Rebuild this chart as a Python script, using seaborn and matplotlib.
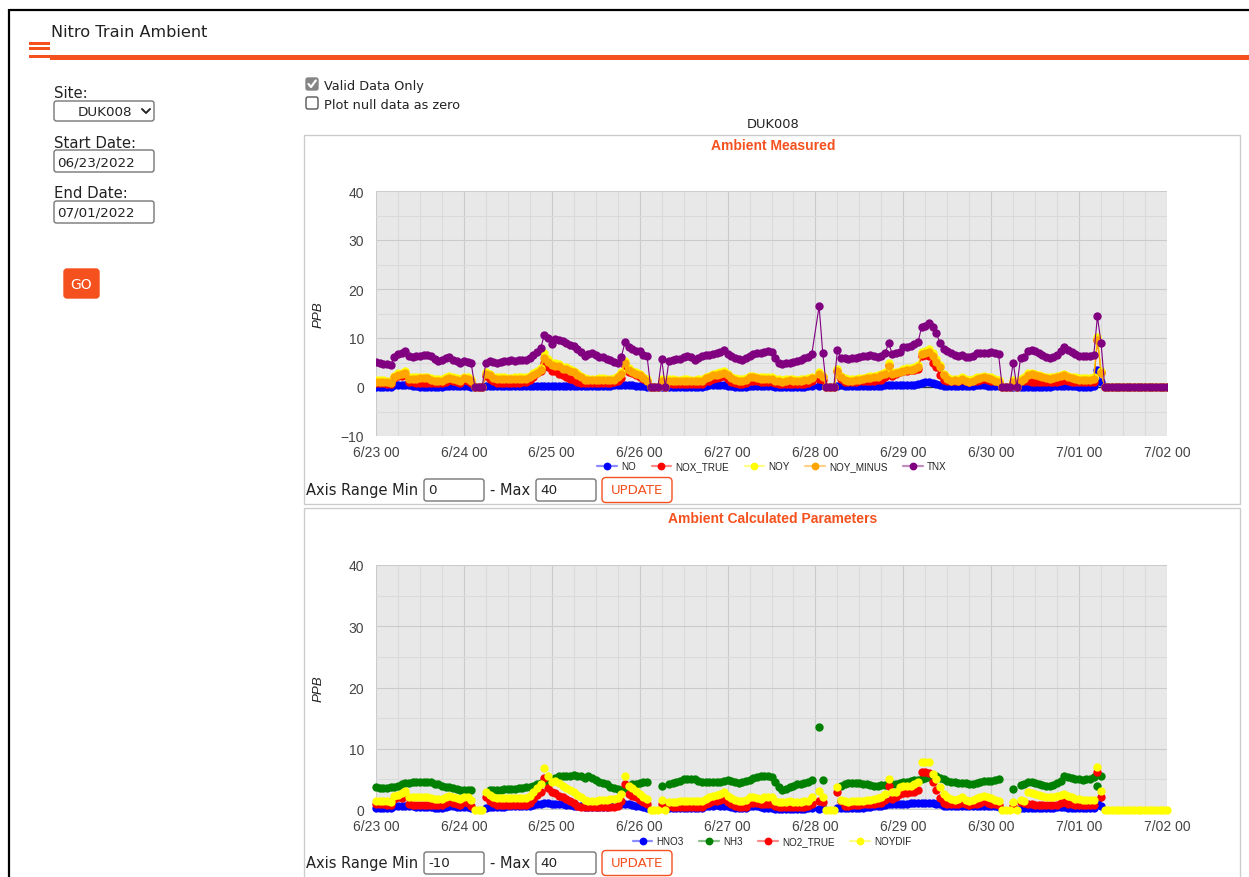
import numpy as np
import matplotlib
matplotlib.use("Agg")
import matplotlib.pyplot as plt
import seaborn as sns
from matplotlib.patches import Rectangle, FancyBboxPatch
from matplotlib.lines import Line2D
from matplotlib.ticker import MultipleLocator, FixedLocator

nan = float("nan")

# ---------------------------------------------------------------- data
# hourly readings from 6/23 00:00 through 7/02 00:00 (217 samples)
hour_offsets = np.arange(217)
day_ticks = [0, 24, 48, 72, 96, 120, 144, 168, 192, 216]
day_labels = ["6/23 00", "6/24 00", "6/25 00", "6/26 00", "6/27 00",
              "6/28 00", "6/29 00", "6/30 00", "7/01 00", "7/02 00"]

site_name = "DUK008"
start_date = "06/23/2022"
end_date = "07/01/2022"

# Ambient Measured (ppb)
no_ppb = [
    0.0, 0.0, 0.0, 0.0, 0.1, 0.4, 0.5, 0.5, 0.5, 0.4, 0.3, 0.2, 0.1, 0.1, 0.1, 0.1, 0.1, 0.1, 0.1, 0.2, 0.3, 0.3, 0.2, 0.2,
    0.2, 0.2, 0.1, 0, 0, 0, 0.3, 0.3, 0.2, 0.2, 0.2, 0.2, 0.3, 0.3, 0.3, 0.3, 0.3, 0.3, 0.3, 0.3, 0.3, 0.3, 0.3, 0.3,
    0.3, 0.3, 0.3, 0.3, 0.3, 0.3, 0.3, 0.3, 0.3, 0.3, 0.3, 0.3, 0.3, 0.3, 0.3, 0.3, 0.3, 0.4, 0.5, 0.5, 0.5, 0.5, 0.4, 0.3,
    0.3, 0.2, 0.1, 0, 0, 0, 0.1, 0, 0.1, 0.0, 0.0, 0.0, 0.0, 0.0, 0.0, 0.0, 0.1, 0.1, 0.3, 0.4, 0.4, 0.4, 0.4, 0.4,
    0.3, 0.2, 0.1, 0.1, 0.1, 0.1, 0.2, 0.2, 0.3, 0.3, 0.2, 0.2, 0.2, 0.1, 0.1, 0.1, 0.1, 0.1, 0.1, 0.1, 0.1, 0.1, 0.2, 0.3,
    nan, 0.2, 0.4, 0, 0, 0, 0.3, 0.4, 0.2, 0.2, 0.2, 0.2, 0.2, 0.2, 0.2, 0.3, 0.3, 0.3, 0.3, 0.4, 0.4, 0.4, 0.4, 0.4,
    0.4, 0.4, 0.4, 0.5, 0.6, 0.9, 1.0, 1.0, 0.9, 0.7, 0.5, 0.3, 0.2, 0.2, 0.2, 0.2, 0.3, 0.3, 0.3, 0.3, 0.4, 0.4, 0.4, 0.3,
    0.3, 0.3, 0.2, 0, 0, 0, 0.1, 0, 0.1, 0.1, 0.1, 0.1, 0.1, 0.1, 0.1, 0.1, 0.1, 0.2, 0.2, 0.2, 0.2, 0.2, 0.2, 0.2,
    0.1, 0.1, 0.1, 0.1, 0.2, 3.5, 1.0, 0, 0, 0, 0, 0, 0, 0, 0, 0, 0, 0, 0, 0, 0, 0, 0, 0, 0,
]
nox_true_ppb = [
    0.8, 0.8, 0.8, 0.7, 0.7, 1.9, 2.3, 2.2, 2.5, 1.1, 1.0, 0.9, 0.9, 0.9, 0.9, 0.9, 0.8, 0.8, 0.8, 1.1, 1.4, 1.2, 1.0, 0.9,
    1.4, 1.2, 0.8, 0, 0, 0, 2.3, 1.6, 1.2, 0.9, 0.9, 0.9, 0.9, 0.9, 0.9, 0.9, 1.0, 1.1, 1.4, 2.1, 2.8, 3.2, 5.0, 4.0,
    3.3, 3.2, 2.7, 2.4, 2.1, 1.7, 1.4, 1.0, 0.8, 0.8, 0.8, 0.8, 0.8, 0.8, 0.8, 0.8, 0.9, 1.0, 1.2, 1.9, 4.2, 3.1, 2.8, 2.5,
    2.1, 1.7, 1.2, 0, 0, 0, 0.9, 0, 0.8, 0.6, 0.6, 0.6, 0.6, 0.6, 0.6, 0.6, 0.7, 0.7, 1.3, 1.3, 1.6, 1.9, 2.0, 2.2,
    1.6, 1.1, 0.8, 0.7, 0.7, 0.8, 1.3, 1.2, 1.2, 1.1, 1.1, 1.1, 1.1, 0.8, 0.7, 0.7, 0.7, 0.7, 0.7, 0.7, 0.7, 0.7, 0.8, 1.2,
    nan, 1.6, 1.5, 0, 0, 0, 3.2, 1.7, 1.0, 1.0, 1.1, 1.1, 1.2, 1.2, 1.3, 1.3, 1.3, 1.4, 1.5, 2.0, 4.5, 2.3, 2.6, 3.1,
    3.2, 3.2, 3.4, 3.5, 3.7, 6.3, 6.5, 6.4, 5.0, 4.0, 2.5, 1.4, 1.2, 1.2, 1.2, 1.2, 1.4, 1.2, 1.1, 1.2, 1.3, 1.4, 1.7, 1.4,
    1.3, 1.2, 1.1, 0, 0, 0, 0.9, 0, 1.4, 1.3, 1.2, 1.1, 1.0, 1.0, 1.0, 1.0, 1.0, 1.0, 1.0, 1.3, 1.4, 1.2, 1.1, 1.0,
    1.0, 1.0, 1.0, 1.0, 1.0, 9.6, 3.1, 0, 0, 0, 0, 0, 0, 0, 0, 0, 0, 0, 0, 0, 0, 0, 0, 0, 0,
]
noy_ppb = [
    1.4, 1.4, 1.4, 1.3, 1.2, 2.3, 2.8, 2.9, 3.2, 2.0, 2.0, 2.0, 2.1, 2.1, 2.1, 1.8, 1.6, 1.6, 1.6, 2.0, 2.2, 2.0, 1.8, 1.6,
    2.1, 2.0, 1.6, 0, 0, 0, 3.0, 2.7, 2.1, 2.0, 2.0, 2.0, 1.9, 1.9, 2.0, 2.0, 2.0, 2.0, 2.3, 2.8, 3.2, 3.9, 6.9, 5.7,
    5.0, 4.8, 4.6, 4.1, 4.0, 3.7, 3.3, 2.8, 2.3, 1.8, 1.7, 1.7, 1.7, 1.8, 1.8, 1.7, 1.7, 1.8, 2.3, 3.0, 5.4, 3.9, 3.3, 3.0,
    2.7, 2.1, 1.6, 0, 0, 0, 1.6, 0, 1.6, 1.6, 1.5, 1.5, 1.6, 1.6, 1.5, 1.5, 1.6, 1.6, 2.1, 2.3, 2.7, 2.8, 3.0, 3.2,
    2.7, 2.1, 1.8, 1.6, 1.6, 1.8, 2.3, 2.3, 2.1, 2.0, 2.0, 2.0, 2.0, 1.6, 1.6, 1.4, 1.6, 1.7, 1.6, 1.5, 1.6, 1.7, 1.8, 2.1,
    nan, 3.0, 2.3, 0, 0, 0, 3.7, 2.3, 1.8, 1.6, 1.6, 1.7, 1.8, 1.9, 2.1, 2.2, 2.3, 2.4, 2.7, 3.0, 5.0, 3.0, 3.1, 3.3,
    3.7, 3.8, 3.9, 4.0, 4.5, 7.1, 7.4, 7.8, 6.9, 5.7, 4.4, 2.7, 2.0, 1.6, 1.7, 1.6, 2.0, 1.6, 1.4, 1.6, 2.0, 2.1, 2.3, 2.1,
    2.0, 1.6, 1.4, 0, 0, 0, 1.4, 0, 1.6, 2.0, 2.8, 2.9, 2.7, 2.5, 2.3, 2.1, 2.0, 2.1, 2.3, 2.5, 2.7, 2.3, 2.1, 2.0,
    1.8, 1.8, 1.8, 1.8, 2.0, 10.3, 3.2, 0, 0, 0, 0, 0, 0, 0, 0, 0, 0, 0, 0, 0, 0, 0, 0, 0, 0,
]
noy_minus_ppb = [
    1.1, 1.1, 1.1, 1.0, 0.9, 2.0, 2.5, 2.6, 2.9, 1.7, 1.7, 1.7, 1.8, 1.8, 1.8, 1.5, 1.3, 1.3, 1.3, 1.7, 1.9, 1.7, 1.5, 1.3,
    1.8, 1.7, 1.3, 0, 0, 0, 2.6, 2.4, 1.8, 1.7, 1.7, 1.7, 1.6, 1.6, 1.7, 1.7, 1.7, 1.7, 2.0, 2.5, 2.9, 3.5, 6.0, 5.1,
    4.5, 4.3, 4.2, 3.7, 3.6, 3.3, 3.0, 2.5, 2.0, 1.5, 1.4, 1.4, 1.4, 1.5, 1.5, 1.4, 1.4, 1.5, 2.0, 2.6, 4.8, 3.5, 3.0, 2.7,
    2.4, 1.8, 1.3, 0, 0, 0, 1.3, 0, 1.3, 1.3, 1.2, 1.2, 1.3, 1.3, 1.2, 1.2, 1.3, 1.3, 1.8, 2.0, 2.4, 2.5, 2.7, 2.9,
    2.4, 1.8, 1.5, 1.3, 1.3, 1.5, 2.0, 2.0, 1.8, 1.7, 1.7, 1.7, 1.7, 1.3, 1.3, 1.1, 1.3, 1.4, 1.3, 1.2, 1.3, 1.4, 1.5, 1.8,
    nan, 2.6, 2.0, 0, 0, 0, 3.2, 2.0, 1.5, 1.3, 1.3, 1.4, 1.5, 1.6, 1.8, 1.9, 2.0, 2.1, 2.4, 2.7, 4.3, 2.7, 2.8, 3.0,
    3.3, 3.4, 3.5, 3.6, 4.1, 6.7, 7.0, 7.2, 6.4, 5.2, 4.0, 2.4, 1.7, 1.3, 1.4, 1.3, 1.7, 1.3, 1.1, 1.3, 1.7, 1.8, 2.0, 1.8,
    1.7, 1.3, 1.1, 0, 0, 0, 1.1, 0, 1.3, 1.7, 2.5, 2.6, 2.4, 2.2, 2.0, 1.8, 1.7, 1.8, 2.0, 2.2, 2.4, 2.0, 1.8, 1.7,
    1.5, 1.5, 1.5, 1.5, 1.7, 9.5, 2.8, 0, 0, 0, 0, 0, 0, 0, 0, 0, 0, 0, 0, 0, 0, 0, 0, 0, 0,
]
tnx_ppb = [
    5.2, 4.8, 4.7, 4.7, 4.5, 6.1, 6.7, 6.9, 7.4, 6.4, 6.2, 6.3, 6.3, 6.5, 6.6, 6.3, 5.7, 5.4, 5.5, 5.9, 6.1, 5.6, 5.4, 4.8,
    5.4, 5.2, 4.8, 0, 0, 0, 5.0, 5.4, 5.2, 5.0, 5.2, 5.4, 5.4, 5.5, 5.4, 5.6, 5.6, 5.6, 6.0, 6.5, 7.1, 8.0, 10.7, 10.0,
    8.8, 9.7, 9.5, 9.3, 9.0, 8.6, 8.3, 7.8, 7.1, 6.4, 6.7, 6.9, 6.5, 6.2, 6.1, 5.7, 5.5, 5.2, 4.9, 6.2, 9.1, 8.1, 7.8, 7.4,
    7.3, 6.5, 6.4, 0, 0, 0, 5.7, 0, 5.4, 5.5, 5.7, 5.8, 6.2, 6.3, 6.1, 5.6, 5.9, 6.4, 6.6, 6.6, 6.7, 6.9, 7.1, 7.6,
    6.7, 6.3, 5.9, 5.7, 5.5, 5.9, 6.4, 6.7, 6.9, 6.9, 7.1, 7.3, 7.1, 5.9, 5.0, 4.7, 4.8, 5.0, 5.2, 5.4, 5.5, 5.9, 6.2, 6.7,
    nan, 16.5, 6.9, 0, 0, 0, 7.5, 6.0, 5.9, 5.8, 5.9, 6.0, 6.2, 6.3, 6.4, 6.5, 6.4, 6.2, 6.4, 6.9, 8.9, 6.7, 6.9, 7.1,
    8.1, 8.2, 8.4, 8.8, 9.1, 12.3, 12.5, 13.0, 12.2, 11.0, 9.0, 7.8, 7.3, 6.9, 6.5, 6.4, 6.5, 6.2, 6.1, 6.4, 6.9, 7.0, 6.9, 6.9,
    7.1, 6.9, 6.7, 0, 0, 0, 5.0, 0, 5.9, 6.1, 7.4, 7.6, 7.3, 6.9, 6.6, 6.2, 5.9, 6.1, 6.5, 7.3, 8.1, 7.6, 7.1, 6.7,
    6.4, 6.4, 6.3, 6.4, 6.5, 14.4, 8.9, 0, 0, 0, 0, 0, 0, 0, 0, 0, 0, 0, 0, 0, 0, 0, 0, 0, 0,
]

# Ambient Calculated Parameters (ppb)
hno3_ppb = [
    0.4, 0.4, 0.4, 0.4, 0.4, 0.6, 0.7, 0.7, 0.7, 0.6, 0.6, 0.5, 0.5, 0.5, 0.5, 0.5, 0.4, 0.4, 0.4, 0.5, 0.6, 0.6, 0.5, 0.5,
    0.5, 0.5, 0.4, nan, nan, nan, 0.4, 0.5, 0.5, 0.5, 0.5, 0.5, 0.6, 0.6, 0.6, 0.6, 0.6, 0.6, 0.7, 0.8, 0.9, 1.0, 1.1, 1.1,
    1.0, 1.0, 0.9, 0.9, 0.8, 0.8, 0.7, 0.7, 0.6, 0.5, 0.5, 0.5, 0.5, 0.5, 0.5, 0.5, 0.6, 0.7, 0.9, 1.0, 1.0, 0.9, 0.8, 0.7,
    0.6, 0.5, 0.4, nan, nan, nan, 0.4, nan, 0.3, 0.3, 0.3, 0.3, 0.3, 0.3, 0.3, 0.3, 0.4, 0.4, 0.6, 0.7, 0.7, 0.8, 0.7, 0.7,
    0.6, 0.5, 0.4, 0.4, 0.4, 0.4, 0.6, 0.6, 0.6, 0.5, 0.4, 0.4, 0.3, 0.2, 0.2, 0.2, 0.2, 0.2, 0.2, 0.2, 0.2, 0.2, 0.3, 0.3,
    nan, 0.2, 0.3, nan, nan, nan, 0.3, 0.3, 0.3, 0.3, 0.3, 0.4, 0.4, 0.4, 0.5, 0.5, 0.6, 0.6, 0.7, 0.8, 0.9, 0.9, 0.9, 0.9,
    0.9, 1.0, 1.1, 1.1, 1.1, 1.1, 1.1, 1.1, 1.1, 1.0, 0.9, 0.7, 0.6, 0.6, 0.6, 0.6, 0.6, 0.6, 0.6, 0.6, 0.7, 0.7, 0.7, 0.6,
    0.6, 0.6, 0.5, nan, nan, nan, 0.3, nan, 0.4, 0.4, 0.4, 0.4, 0.4, 0.4, 0.4, 0.4, 0.4, 0.4, 0.5, 0.5, 0.5, 0.4, 0.4, 0.4,
    0.4, 0.4, 0.4, 0.4, 0.4, 1.4, 0.7, nan, nan, nan, nan, nan, nan, nan, nan, nan, nan, nan, nan, nan, nan, nan, nan, nan, nan,
]
nh3_ppb = [
    3.8, 3.6, 3.6, 3.6, 3.7, 3.8, 4.0, 4.2, 4.4, 4.4, 4.5, 4.5, 4.6, 4.6, 4.6, 4.5, 4.3, 4.2, 4.0, 3.8, 3.7, 3.6, 3.4, 3.3,
    3.3, 3.3, 3.2, nan, nan, nan, nan, 3.3, 3.3, 3.3, 3.3, 3.4, 3.4, 3.5, 3.5, 3.6, 3.6, 3.7, 3.8, 4.0, 4.2, 4.4, 4.5, 4.6,
    4.8, 5.2, 5.5, 5.5, 5.6, 5.6, 5.7, 5.6, 5.5, 5.2, 5.6, 5.2, 4.9, 4.6, 4.4, 4.2, 3.8, 3.6, 3.4, 3.2, 3.6, 4.0, 4.2, 4.3,
    4.4, 4.5, 4.6, nan, nan, nan, 3.9, nan, 4.3, 4.4, 4.5, 4.8, 5.0, 5.0, 5.1, 5.0, 4.8, 4.6, 4.6, 4.5, 4.5, 4.6, 4.6, 4.8,
    4.9, 4.8, 4.6, 4.4, 4.6, 4.8, 4.9, 5.2, 5.4, 5.5, 5.5, 5.5, 5.4, 4.5, 3.8, 3.2, 3.4, 3.7, 4.0, 4.2, 4.3, 4.4, 4.6, 4.9,
    nan, 13.5, 4.9, nan, nan, nan, nan, 4.0, 4.3, 4.4, 4.4, 4.4, 4.4, 4.3, 4.2, 4.1, 4.0, 4.0, 4.1, 4.1, 4.3, 4.2, 4.3, 4.4,
    4.5, 4.6, 4.8, 4.9, 4.9, 5.1, 5.2, 5.4, 5.6, 5.5, 5.2, 5.0, 4.8, 4.6, 4.5, 4.4, 4.4, 4.4, 4.3, 4.3, 4.4, 4.6, 4.7, 4.8,
    4.8, 4.9, 5.0, nan, nan, nan, 3.4, nan, 4.1, 4.3, 4.5, 4.6, 4.4, 4.3, 4.1, 4.0, 4.0, 4.1, 4.4, 4.8, 5.6, 5.4, 5.2, 5.1,
    5.0, 4.9, 5.0, 5.1, 5.4, 4.0, 5.5, nan, nan, nan, nan, nan, nan, nan, nan, nan, nan, nan, nan, nan, nan, nan, nan, nan, nan,
]
no2_true_ppb = [
    0.9, 0.9, 0.9, 0.8, 0.8, 1.8, 2.1, 2.0, 2.3, 1.0, 0.8, 0.8, 0.8, 0.8, 0.8, 0.8, 0.8, 0.8, 0.8, 1.1, 1.4, 1.2, 0.9, 0.8,
    1.3, 1.1, 0.7, nan, nan, nan, 2.2, 1.5, 1.1, 0.8, 0.8, 0.8, 0.8, 0.8, 0.8, 0.8, 0.8, 0.8, 1.1, 1.8, 2.5, 2.9, 5.2, 3.6,
    2.9, 2.7, 2.3, 2.1, 1.8, 1.4, 1.1, 0.7, 0.5, 0.5, 0.5, 0.5, 0.5, 0.5, 0.5, 0.5, 0.5, 0.5, 0.6, 1.4, 4.2, 2.6, 2.3, 2.1,
    1.6, 1.3, 0.9, nan, nan, nan, 0.9, nan, 0.7, 0.5, 0.5, 0.5, 0.5, 0.5, 0.5, 0.5, 0.5, 0.5, 1.0, 1.2, 1.4, 1.5, 1.6, 1.8,
    1.3, 1.0, 0.7, 0.5, 0.5, 0.5, 1.1, 1.2, 1.1, 1.0, 0.9, 0.9, 1.0, 0.6, 0.5, 0.5, 0.5, 0.5, 0.5, 0.5, 0.5, 0.5, 0.6, 1.0,
    nan, 1.4, 1.3, nan, nan, nan, 3.0, 1.4, 0.7, 0.7, 0.8, 0.8, 0.8, 0.9, 0.9, 0.9, 1.0, 1.1, 1.2, 1.6, 4.0, 1.8, 2.1, 2.6,
    2.7, 2.8, 2.9, 3.0, 3.2, 6.2, 6.2, 6.0, 4.5, 3.2, 2.0, 1.1, 0.9, 0.9, 0.9, 0.9, 1.1, 0.9, 0.8, 0.9, 1.0, 1.1, 1.4, 1.1,
    1.0, 0.9, 0.8, nan, nan, nan, 0.7, nan, 1.3, 1.1, 1.0, 0.9, 0.8, 0.8, 0.8, 0.8, 0.8, 0.8, 0.8, 1.1, 1.3, 1.0, 0.9, 0.8,
    0.8, 0.8, 0.8, 0.8, 0.8, 6.2, 2.1, nan, nan, nan, nan, nan, nan, nan, nan, nan, nan, nan, nan, nan, nan, nan, nan, nan, nan,
]
noydif_ppb = [
    1.4, 1.4, 1.4, 1.4, 1.3, 2.3, 2.5, 2.7, 3.1, 2.1, 2.1, 2.1, 2.1, 2.1, 2.1, 2.0, 1.8, 1.8, 1.8, 2.1, 2.3, 2.1, 1.9, 1.8,
    2.1, 2.1, 1.6, 0, 0, 0, 3.0, 2.5, 2.1, 2.0, 2.0, 2.0, 2.0, 2.0, 2.0, 2.0, 2.0, 2.0, 2.3, 2.9, 3.6, 4.3, 6.9, 5.5,
    4.5, 4.8, 4.4, 4.0, 3.6, 3.3, 2.9, 2.5, 2.1, 1.6, 1.4, 1.5, 1.5, 1.6, 1.7, 1.7, 1.8, 1.8, 2.0, 2.6, 5.5, 4.0, 3.6, 3.1,
    2.6, 2.2, 1.8, 0, 0, 0, 1.7, 0, 1.3, 1.3, 1.3, 1.4, 1.4, 1.4, 1.4, 1.4, 1.4, 1.4, 1.8, 2.1, 2.3, 2.4, 2.6, 2.9,
    2.3, 1.9, 1.6, 1.4, 1.4, 1.6, 2.1, 2.2, 2.0, 1.8, 2.1, 2.1, 2.1, 1.5, 1.3, 1.3, 1.3, 1.4, 1.3, 1.3, 1.3, 1.4, 1.5, 2.1,
    nan, 3.1, 2.1, 0, 0, 0, 3.7, 1.6, 1.4, 1.3, 1.4, 1.5, 1.5, 1.5, 1.6, 1.6, 1.8, 2.0, 2.2, 2.6, 5.1, 2.9, 3.0, 3.8,
    3.9, 3.9, 4.0, 4.2, 4.5, 7.8, 7.8, 7.8, 5.9, 5.1, 3.7, 2.6, 2.1, 1.8, 1.6, 1.8, 2.1, 1.6, 1.4, 1.6, 2.0, 2.1, 2.3, 2.2,
    2.0, 1.6, 1.4, 0, 0, 0, 1.3, 0, 1.6, 1.5, 2.9, 2.8, 2.6, 2.5, 2.3, 2.2, 2.1, 2.2, 2.3, 2.5, 2.6, 2.3, 2.1, 1.8,
    1.8, 1.6, 1.6, 1.6, 1.6, 7.0, 3.1, 0, 0, 0, 0, 0, 0, 0, 0, 0, 0, 0, 0, 0, 0, 0, 0, 0, 0,
]

measured_names = ["NO", "NOX_TRUE", "NOY", "NOY_MINUS", "TNX"]
measured_values = [no_ppb, nox_true_ppb, noy_ppb, noy_minus_ppb, tnx_ppb]
measured_colors = ["#0000ff", "#ff0000", "#ffff00", "#ffa500", "#800080"]
measured_light = ["#8c8cff", "#ff8c8c", "#ffff8c", "#ffd28c", "#c08cc0"]

calc_names = ["HNO3", "NH3", "NO2_TRUE", "NOYDIF"]
calc_values = [hno3_ppb, nh3_ppb, no2_true_ppb, noydif_ppb]
calc_colors = ["#0000ff", "#008000", "#ff0000", "#ffff00"]
calc_light = ["#8c8cff", "#8cc08c", "#ff8c8c", "#ffff8c"]

for series in measured_values + calc_values:
    assert len(series) == len(hour_offsets), len(series)

# ---------------------------------------------------------------- figure
W, H = 1249, 878
ACCENT = "#f4511e"
UI_FONT = "DejaVu Sans"

sns.set_style("white")
plt.rcParams["font.family"] = ["Liberation Sans", "DejaVu Sans"]

fig = plt.figure(figsize=(W / 100, H / 100), dpi=100)

# page layer in pixel coordinates
ui = fig.add_axes([0, 0, 1, 1], zorder=0)
ui.set_xlim(0, W)
ui.set_ylim(H, 0)
ui.axis("off")


def box(x, y, w, h, edge="#767676", face="white", r=2.5, lw=1.0):
    ui.add_patch(FancyBboxPatch((x, y), w, h, boxstyle=f"round,pad=0,rounding_size={r}",
                                facecolor=face, edgecolor=edge, linewidth=lw))


def label(x, y, s, size, color="#222222", ha="left", **kw):
    ui.text(x, y, s, fontsize=size, color=color, ha=ha, va="center", family=UI_FONT, **kw)


# outer frame
ui.plot([9, W], [10.5, 10.5], color="black", lw=1.6, solid_capstyle="butt")
ui.plot([9.5, 9.5], [10, H], color="black", lw=1.6, solid_capstyle="butt")

# header
label(51, 32.5, "Nitro Train Ambient", 11.6)
ui.add_patch(Rectangle((50, 56), W - 50, 4.5, color=ACCENT, lw=0))
for yb in (42.5, 48.3, 56.0):
    ui.add_patch(Rectangle((29, yb), 21, 3.0, color=ACCENT, lw=0))

# left form
label(54, 94, "Site:", 10.7)
box(54, 102, 100, 20)
label(78, 112.5, site_name, 9.7)
ui.plot([142, 146, 150], [110, 114, 110], color="#222222", lw=1.4)
label(54, 144, "Start Date:", 10.7)
box(54, 151, 100, 22)
label(57, 162.5, start_date, 9.7)
label(54, 194, "End Date:", 10.7)
box(54, 202, 100, 22)
label(57, 213.5, end_date, 9.7)
box(64, 270, 35, 29, edge=ACCENT, face=ACCENT, r=3)
label(81.5, 285, "GO", 10, color="white", ha="center")

# option checkboxes
box(306, 79, 12, 12, edge="#858585", face="#858585", r=2)
ui.plot([308.5, 311, 315.8], [85, 88, 81.5], color="white", lw=1.6)
label(324, 86.5, "Valid Data Only", 9.3)
box(306, 98, 12, 12, edge="#555555", face="white", r=2)
label(324, 105.5, "Plot null data as zero", 9.3)

# panels
label(773, 125, site_name, 9.4, ha="center")
ui.add_patch(Rectangle((304, 136), 936, 369, fill=False, edgecolor="#cccccc", lw=1))
ui.add_patch(Rectangle((304, 509), 936, 400, fill=False, edgecolor="#cccccc", lw=1))
ui.text(773, 146, "Ambient Measured", fontsize=10, fontweight="bold", color=ACCENT,
        ha="center", va="center")
ui.text(773, 519, "Ambient Calculated Parameters", fontsize=10, fontweight="bold",
        color=ACCENT, ha="center", va="center")


def range_row(y, vmin, vmax):
    label(306, y, "Axis Range Min", 10.5)
    box(424, y - 11, 60, 22)
    label(428, y, vmin, 9.7)
    label(490, y, "- Max", 10.5)
    box(536, y - 11, 60, 22)
    label(540, y, vmax, 9.7)
    box(602, y - 12.5, 70, 25, edge=ACCENT, face="white", r=4)
    label(637, y, "UPDATE", 9.6, color=ACCENT, ha="center")


range_row(491, "0", "40")
range_row(864, "-10", "40")


def chart_axes(top, ymin, ymax):
    ax = fig.add_axes([376 / W, 1 - (top + 245) / H, 791 / W, 245 / H], zorder=2)
    ax.set_facecolor("#e8e8e8")
    ax.set_xlim(0, 216)
    ax.set_ylim(ymin, ymax)
    ax.xaxis.set_major_locator(FixedLocator(day_ticks))
    ax.set_xticklabels(day_labels)
    ax.xaxis.set_minor_locator(MultipleLocator(6))
    ax.yaxis.set_major_locator(MultipleLocator(10))
    ax.yaxis.set_minor_locator(MultipleLocator(5))
    ax.grid(which="major", color="#cbcbcb", lw=0.8)
    ax.grid(which="minor", color="#dadada", lw=0.8)
    ax.set_axisbelow(True)
    for sp in ax.spines.values():
        sp.set_visible(False)
    ax.tick_params(which="both", length=0)
    ax.tick_params(axis="x", pad=6.5, labelsize=10, labelcolor="#444444")
    ax.tick_params(axis="y", pad=8.6, labelsize=10, labelcolor="#444444")
    ax.axhline(0, color="#333333", lw=0.9, zorder=1.5)
    return ax


def draw_series(ax, values_list, colors, with_lines, clip):
    for i, (vals, color) in enumerate(zip(values_list, colors)):
        y = np.asarray(vals, dtype=float)
        x = hour_offsets
        z = 3 + i * 0.1
        if with_lines:
            keep = ~np.isnan(y)
            ax.plot(x[keep], y[keep], color=color, lw=0.8, zorder=z, clip_on=clip)
        sns.scatterplot(x=x, y=y, ax=ax, color=color, s=36, linewidth=0, zorder=z + 0.05,
                        legend=False, clip_on=clip)
    ax.set_xlabel("")
    ax.set_ylabel("PPB", style="italic", fontsize=9.6, color="#222222")
    ax.yaxis.set_label_coords(-51 / 791, 0.5)


def draw_legend(names, colors, light, cy):
    handles = [Line2D([], [], color=lc, lw=1.6, marker="o", markersize=4.6,
                      markerfacecolor=c, markeredgecolor=c)
               for c, lc in zip(colors, light)]
    fig.legend(handles, names, loc="center", bbox_to_anchor=(772 / W, 1 - cy / H),
               ncol=len(names), frameon=False, fontsize=7.1, handlelength=2.0,
               handletextpad=0.4, columnspacing=1.6, labelcolor="#222222")


ax1 = chart_axes(192, -10, 40)
draw_series(ax1, measured_values, measured_colors, with_lines=True, clip=True)
draw_legend(measured_names, measured_colors, measured_light, 467)

ax2 = chart_axes(566, 0, 40)
draw_series(ax2, calc_values, calc_colors, with_lines=False, clip=False)
draw_legend(calc_names, calc_colors, calc_light, 842)

fig.savefig("out.png", dpi=100)
